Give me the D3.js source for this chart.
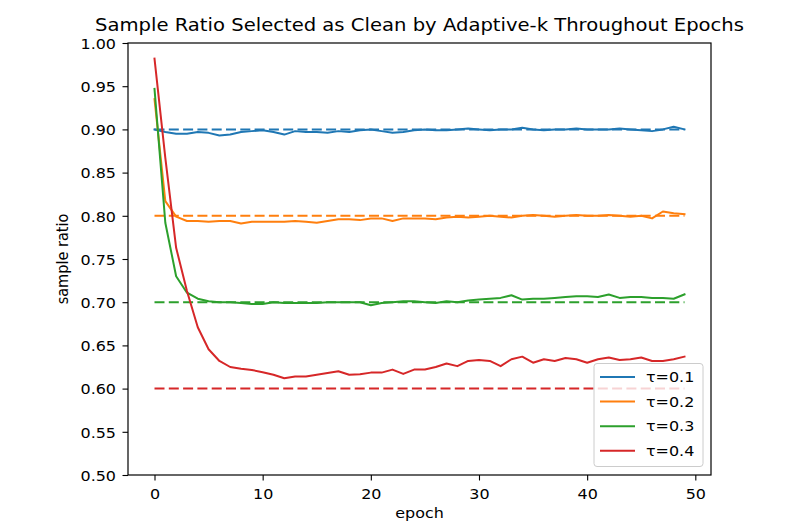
<!DOCTYPE html>
<html>
<head>
<meta charset="utf-8">
<script src="https://cdn.jsdelivr.net/npm/d3@7"></script>
<style>
  html, body { margin: 0; padding: 0; background: #fff; }
  svg { display: block; font-family: "DejaVu Sans", sans-serif; }
</style>
</head>
<body>
<svg id="chart" width="800" height="530"></svg>
<script>
// ---- data ----
const epochs = d3.range(0, 50);
const seriesNames = ["τ=0.1", "τ=0.2", "τ=0.3", "τ=0.4"];
const targets = [0.9, 0.8, 0.7, 0.6];
const tau01 = [0.900, 0.897, 0.895, 0.895, 0.897, 0.896, 0.893, 0.894, 0.897, 0.898,
               0.899, 0.897, 0.894, 0.898, 0.897, 0.897, 0.896, 0.898, 0.897, 0.899,
               0.900, 0.898, 0.896, 0.897, 0.899, 0.900, 0.899, 0.899, 0.900, 0.901,
               0.900, 0.899, 0.900, 0.900, 0.902, 0.900, 0.899, 0.900, 0.900, 0.901,
               0.900, 0.900, 0.900, 0.901, 0.900, 0.899, 0.898, 0.900, 0.903, 0.900];
const tau02 = [0.935, 0.817, 0.799, 0.794, 0.794, 0.793, 0.794, 0.794, 0.791, 0.793,
               0.793, 0.793, 0.793, 0.794, 0.793, 0.792, 0.794, 0.796, 0.796, 0.795,
               0.797, 0.797, 0.794, 0.797, 0.797, 0.797, 0.796, 0.798, 0.799, 0.798,
               0.799, 0.800, 0.799, 0.798, 0.800, 0.801, 0.800, 0.799, 0.800, 0.801,
               0.800, 0.800, 0.801, 0.800, 0.799, 0.800, 0.797, 0.805, 0.803, 0.802];
const tau03 = [0.947, 0.792, 0.730, 0.711, 0.704, 0.701, 0.700, 0.700, 0.699, 0.698,
               0.698, 0.700, 0.699, 0.699, 0.699, 0.699, 0.700, 0.700, 0.700, 0.700,
               0.6965, 0.699, 0.700, 0.701, 0.701, 0.700, 0.699, 0.701, 0.700, 0.702,
               0.703, 0.704, 0.705, 0.708, 0.703, 0.704, 0.704, 0.705, 0.706, 0.707,
               0.707, 0.706, 0.709, 0.705, 0.706, 0.706, 0.705, 0.705, 0.704, 0.709];
const tau04 = [0.982, 0.867, 0.763, 0.713, 0.671, 0.6455, 0.632, 0.625, 0.623, 0.6215,
               0.619, 0.616, 0.612, 0.614, 0.614, 0.616, 0.618, 0.620, 0.616, 0.6165,
               0.6185, 0.6185, 0.622, 0.617, 0.622, 0.622, 0.625, 0.629, 0.626, 0.632,
               0.633, 0.632, 0.626, 0.634, 0.637, 0.630, 0.634, 0.632, 0.6355, 0.634,
               0.630, 0.634, 0.636, 0.633, 0.634, 0.636, 0.632, 0.632, 0.634, 0.637];
const seriesValues = [tau01, tau02, tau03, tau04];
const xTicks = [0, 10, 20, 30, 40, 50];
const yTicks = [0.50, 0.55, 0.60, 0.65, 0.70, 0.75, 0.80, 0.85, 0.90, 0.95, 1.00];
const colors = ["#1f77b4", "#ff7f0e", "#2ca02c", "#d62728"];

// ---- layout ----
const L = 128, R = 711, T = 43, B = 475;
const S = 1.1;        // horizontal glyph stretch of the reference image
const FS = 14.5;      // tick / label font size

const svg = d3.select("#chart");
const x = d3.scaleLinear().domain([-2.45, 51.45]).range([L, R]);
const y = d3.scaleLinear().domain([0.5, 1.0]).range([B, T]);

function stretchText(sel) {
  sel.each(function () {
    const t = d3.select(this);
    const tx = +t.attr("x") || 0;
    t.attr("x", tx / S).attr("transform", `scale(${S},1)`);
  });
}

// axes
const gx = svg.append("g").attr("transform", `translate(0,${B})`)
  .call(d3.axisBottom(x).tickValues(xTicks).tickFormat(d3.format("d")).tickSize(5.5).tickPadding(8));
const gy = svg.append("g").attr("transform", `translate(${L},0)`)
  .call(d3.axisLeft(y).tickValues(yTicks).tickFormat(d3.format(".2f")).tickSize(5.5).tickPadding(6.5));
[gx, gy].forEach(g => {
  g.select(".domain").remove();
  g.selectAll(".tick line").attr("stroke", "#000").attr("stroke-width", 1.1);
  g.selectAll(".tick text").attr("fill", "#000").style("font-size", FS + "px")
    .style("font-family", "DejaVu Sans, sans-serif");
});
gx.selectAll(".tick text").attr("y", 24.3).attr("dy", 0);
gy.selectAll(".tick text").attr("x", -12).attr("dy", "0.36em");
stretchText(gx.selectAll(".tick text"));
stretchText(gy.selectAll(".tick text"));

// lines
const line = d3.line().x((d, i) => x(epochs[i])).y(d => y(d));
const plot = svg.append("g");
seriesValues.forEach((vals, k) => {
  plot.append("path").datum(vals)
    .attr("d", line).attr("fill", "none")
    .attr("stroke", colors[k]).attr("stroke-width", 2)
    .attr("stroke-linejoin", "round").attr("stroke-linecap", "square");
  plot.append("path").datum(epochs.map(() => targets[k]))
    .attr("d", line).attr("fill", "none")
    .attr("stroke", colors[k]).attr("stroke-width", 2)
    .attr("stroke-dasharray", "10,4.3");
});

// frame
svg.append("rect").attr("x", L).attr("y", T).attr("width", R - L).attr("height", B - T)
  .attr("fill", "none").attr("stroke", "#000").attr("stroke-width", 1.2);

// legend
const lg = svg.append("g");
lg.append("rect").attr("x", 594).attr("y", 363.5).attr("width", 109).attr("height", 103)
  .attr("rx", 3).attr("fill", "#fff").attr("fill-opacity", 0.8)
  .attr("stroke", "#cccccc").attr("stroke-width", 1);
seriesNames.forEach((name, k) => {
  const yy = 377 + k * 24.6;
  lg.append("line").attr("x1", 600).attr("x2", 635).attr("y1", yy).attr("y2", yy)
    .attr("stroke", colors[k]).attr("stroke-width", 2);
  lg.append("text").attr("x", 646).attr("y", yy).attr("dy", "0.36em")
    .style("font-size", FS + "px").attr("fill", "#000").text(name);
});
stretchText(lg.selectAll("text"));

// labels
svg.append("text").attr("text-anchor", "middle")
  .attr("transform", `translate(${(L + R) / 2},518) scale(${S},1)`)
  .style("font-size", FS + "px").text("epoch");
svg.append("text").attr("text-anchor", "middle")
  .attr("transform", `translate(68,${(T + B) / 2}) scale(${S},1) rotate(-90)`)
  .style("font-size", FS + "px").text("sample ratio");
svg.append("text").attr("text-anchor", "middle")
  .attr("x", (L + R) / 2).attr("y", 31)
  .attr("textLength", 649).attr("lengthAdjust", "spacingAndGlyphs")
  .style("font-size", "18px").text("Sample Ratio Selected as Clean by Adaptive-k Throughout Epochs");
</script>
</body>
</html>
